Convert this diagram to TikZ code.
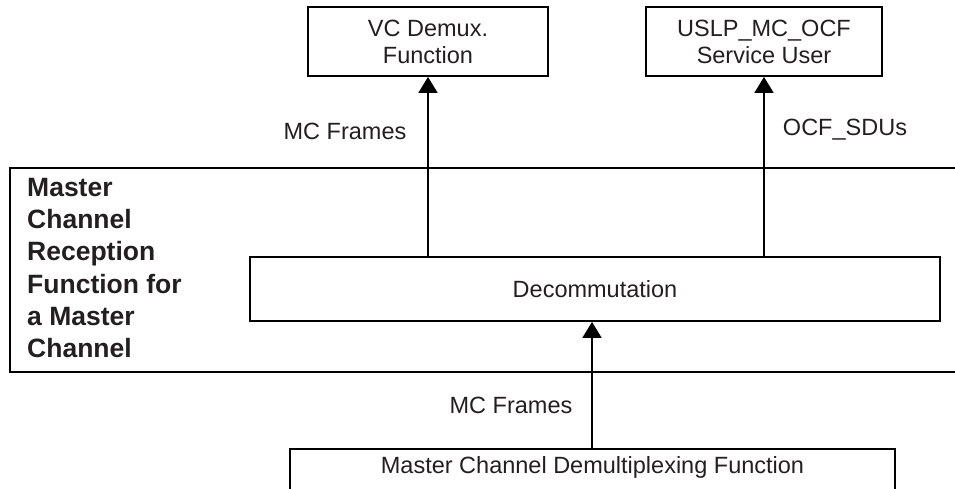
\documentclass[tikz,border=0pt]{standalone}
\usepackage{fontspec}
\setmainfont{Liberation Sans}
\usetikzlibrary{arrows.meta}
\definecolor{txt}{HTML}{231F20}
\begin{document}
\begin{tikzpicture}[x=1pt,y=-1pt,
  box/.style={draw=black,line width=1.8pt,rectangle,inner sep=0pt,text=txt,align=center,
    font=\fontsize{23.5}{27}\selectfont},
  lbl/.style={text=txt,inner sep=0pt,font=\fontsize{23.5}{27}\selectfont},
  flow/.style={draw=black,line width=1.8pt,-{Triangle[length=16pt,width=19pt]}},
  edge/.style={draw=black,line width=1.8pt}]
\useasboundingbox (0,0) rectangle (955,488);
% big enclosing function (right side open)
\coordinate (bigTR) at (960,168);
\coordinate (bigTL) at (10,168);
\coordinate (bigBL) at (10,372);
\coordinate (bigBR) at (960,372);
\draw[edge] (bigTR) -- (bigTL) -- (bigBL) -- (bigBR);
\node[anchor=north west,inner sep=0pt,text=txt,align=left,
  font=\bfseries\fontsize{26.5}{32.2}\selectfont] (title) at (27,178)
  {Master\\Channel\\Reception\\Function for\\a Master\\Channel};
% boxes
\node[box,minimum width=240pt,minimum height=69pt] (vc) at (428,41.5) {VC Demux.\\Function};
\node[box,minimum width=236pt,minimum height=69pt] (uslp) at (764,41.5) {USLP\_MC\_OCF\\Service User};
\node[box,minimum width=690pt,minimum height=64pt] (dec) at (595,289) {Decommutation};
% bottom box (bottom edge outside picture)
\coordinate (mcBL) at (290,495);
\coordinate (mcTL) at (290,449);
\coordinate (mcTR) at (895,449);
\coordinate (mcBR) at (895,495);
\draw[edge] (mcBL) -- (mcTL) -- (mcTR) -- (mcBR);
\node[lbl] (mcd) at (592.5,467) {Master Channel Demultiplexing Function};
% connectors
\draw[flow] (dec.north -| vc.south) -- (vc.south);
\draw[flow] (dec.north -| uslp.south) -- (uslp.south);
\coordinate (mctop) at (592,449);
\draw[flow] (mctop) -- (mctop |- dec.south);
% labels
\node[lbl] (l1) at (345,131) {MC Frames};
\node[lbl] (l2) at (845,130) {OCF\_SDUs};
\node[lbl] (l3) at (511,405) {MC Frames};
\end{tikzpicture}
\end{document}
